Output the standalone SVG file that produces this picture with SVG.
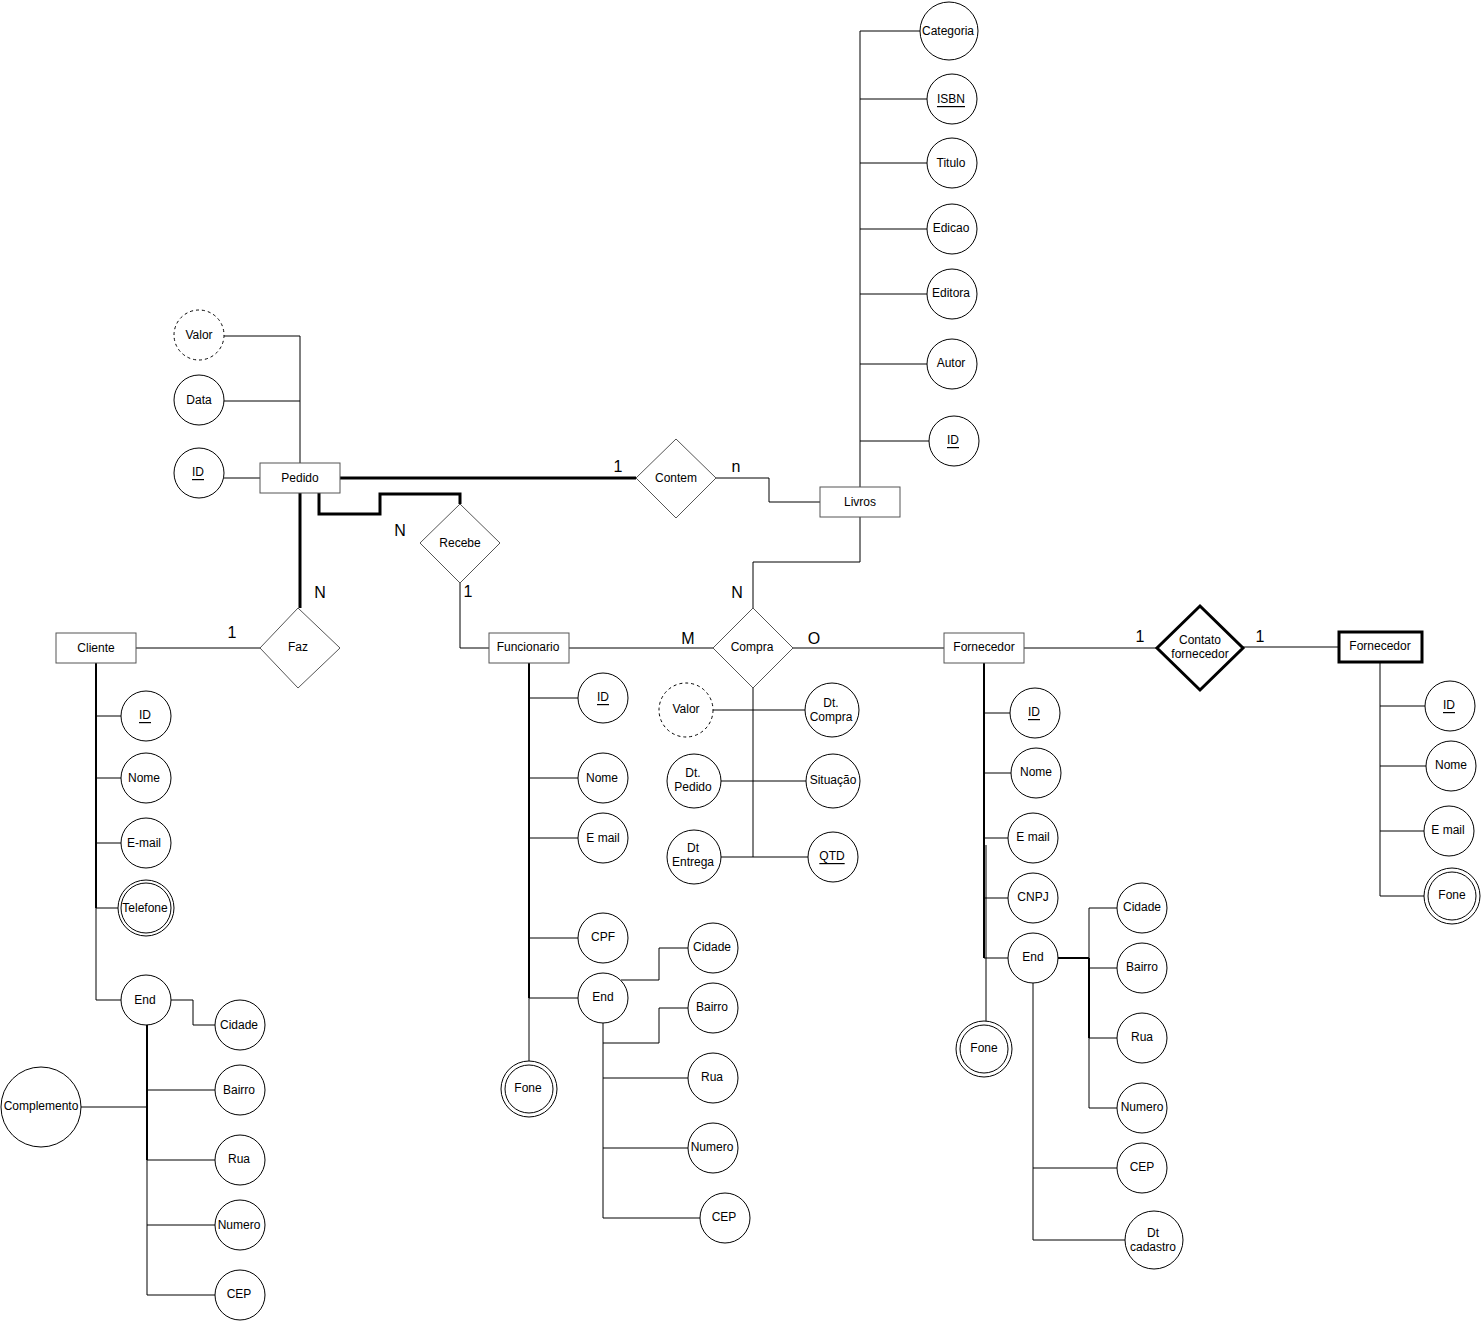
<svg xmlns="http://www.w3.org/2000/svg" width="1481" height="1321" viewBox="0 0 1481 1321">
<style>
text{font-family:"Liberation Sans",Arial,sans-serif;font-size:12px;fill:#000;text-anchor:middle;dominant-baseline:central}
.card{font-size:16px}
.ent{fill:#fff;stroke:#555;stroke-width:1}
.rel{fill:#fff;stroke:#555;stroke-width:1}
.att{fill:#fff;stroke:#000;stroke-width:1}
.der{fill:#fff;stroke:#000;stroke-width:1;stroke-dasharray:3 3}
.c{fill:none;stroke:#000;stroke-width:1}
.t{fill:none;stroke:#000;stroke-width:3}
.m{fill:none;stroke:#000;stroke-width:2}
.bold{fill:#fff;stroke:#000;stroke-width:3}
</style>
<rect width="1481" height="1321" fill="#fff"/>
<g id="connectors">
<!-- Pedido -->
<polyline class="c" points="224,336 300,336 300,463"/>
<line class="c" x1="224" y1="401" x2="300" y2="401"/>
<line class="c" x1="224" y1="478" x2="260" y2="478"/>
<line class="t" x1="340" y1="478" x2="636" y2="478"/>
<line class="t" x1="300" y1="493" x2="300" y2="608"/>
<polyline class="t" points="319,493 319,514 380,514 380,494 460,494 460,504"/>
<polyline class="c" points="460,583 460,648 489,648"/>
<polyline class="c" points="716,478 769,478 769,502 820,502"/>
<line class="c" x1="136" y1="648" x2="260" y2="648"/>
<!-- Livros -->
<line class="c" x1="860" y1="31" x2="860" y2="487"/>
<line class="c" x1="860" y1="31" x2="920" y2="31"/>
<line class="c" x1="860" y1="99" x2="927" y2="99"/>
<line class="c" x1="860" y1="163" x2="927" y2="163"/>
<line class="c" x1="860" y1="229" x2="927" y2="229"/>
<line class="c" x1="860" y1="294" x2="927" y2="294"/>
<line class="c" x1="860" y1="364" x2="927" y2="364"/>
<line class="c" x1="860" y1="441" x2="929" y2="441"/>
<polyline class="c" points="860,517 860,562 753,562 753,608"/>
<!-- Cliente -->
<line class="m" x1="96" y1="663" x2="96" y2="908"/>
<polyline class="c" points="96,908 96,1000 121,1000"/>
<line class="c" x1="96" y1="716" x2="121" y2="716"/>
<line class="c" x1="96" y1="778" x2="121" y2="778"/>
<line class="c" x1="96" y1="843" x2="121" y2="843"/>
<line class="c" x1="96" y1="908" x2="118" y2="908"/>
<polyline class="c" points="171,1000 193,1000 193,1025 215,1025"/>
<line class="m" x1="147" y1="1025" x2="147" y2="1160"/>
<polyline class="c" points="147,1160 147,1295 215,1295"/>
<line class="c" x1="147" y1="1090" x2="215" y2="1090"/>
<line class="c" x1="147" y1="1160" x2="215" y2="1160"/>
<line class="c" x1="147" y1="1225" x2="215" y2="1225"/>
<line class="c" x1="81" y1="1107" x2="147" y2="1107"/>
<!-- Funcionario -->
<line class="c" x1="569" y1="648" x2="713" y2="648"/>
<line class="m" x1="529" y1="663" x2="529" y2="998"/>
<line class="c" x1="529" y1="998" x2="529" y2="1061"/>
<line class="c" x1="529" y1="698" x2="578" y2="698"/>
<line class="c" x1="529" y1="778" x2="578" y2="778"/>
<line class="c" x1="529" y1="838" x2="578" y2="838"/>
<line class="c" x1="529" y1="938" x2="578" y2="938"/>
<line class="c" x1="529" y1="998" x2="578" y2="998"/>
<polyline class="c" points="621,980 659,980 659,948 688,948"/>
<polyline class="c" points="603,1023 603,1218 700,1218"/>
<polyline class="c" points="603,1043 659,1043 659,1008 688,1008"/>
<line class="c" x1="603" y1="1078" x2="688" y2="1078"/>
<line class="c" x1="603" y1="1148" x2="688" y2="1148"/>
<!-- Compra -->
<line class="c" x1="793" y1="648" x2="944" y2="648"/>
<line class="c" x1="753" y1="688" x2="753" y2="857"/>
<line class="c" x1="713" y1="710" x2="806" y2="710"/>
<line class="c" x1="721" y1="781" x2="806" y2="781"/>
<line class="c" x1="721" y1="857" x2="808" y2="857"/>
<!-- Fornecedor -->
<line class="c" x1="1024" y1="648" x2="1157" y2="648"/>
<line class="c" x1="1243" y1="647" x2="1338" y2="647"/>
<line class="m" x1="984" y1="663" x2="984" y2="958"/>
<line class="c" x1="986" y1="845" x2="986" y2="1021"/>
<line class="c" x1="984" y1="713" x2="1010" y2="713"/>
<line class="c" x1="984" y1="773" x2="1011" y2="773"/>
<line class="c" x1="984" y1="838" x2="1008" y2="838"/>
<line class="c" x1="984" y1="898" x2="1008" y2="898"/>
<line class="c" x1="984" y1="958" x2="1008" y2="958"/>
<line class="m" x1="1058" y1="958" x2="1089" y2="958"/>
<line class="m" x1="1089" y1="958" x2="1089" y2="1038"/>
<polyline class="c" points="1117,908 1089,908 1089,1108 1117,1108"/>
<line class="c" x1="1089" y1="968" x2="1117" y2="968"/>
<line class="c" x1="1089" y1="1038" x2="1117" y2="1038"/>
<polyline class="c" points="1033,983 1033,1240 1125,1240"/>
<line class="c" x1="1033" y1="1168" x2="1117" y2="1168"/>
<line class="c" x1="1380" y1="662" x2="1380" y2="896"/>
<line class="c" x1="1380" y1="706" x2="1425" y2="706"/>
<line class="c" x1="1380" y1="766" x2="1426" y2="766"/>
<line class="c" x1="1380" y1="831" x2="1424" y2="831"/>
<line class="c" x1="1380" y1="896" x2="1424" y2="896"/>
</g>
<g id="labels">
<text class="card" x="618" y="466">1</text>
<text class="card" x="736" y="466">n</text>
<text class="card" x="400" y="530">N</text>
<text class="card" x="320" y="592">N</text>
<text class="card" x="468" y="591">1</text>
<text class="card" x="232" y="632">1</text>
<text class="card" x="737" y="592">N</text>
<text class="card" x="688" y="638">M</text>
<text class="card" x="814" y="638">O</text>
<text class="card" x="1140" y="636">1</text>
<text class="card" x="1260" y="636">1</text>
</g>
<g id="pedido"><rect class="ent" x="260" y="463" width="80" height="30"/><text x="300" y="478">Pedido</text></g>
<g id="pedido-valor"><circle class="der" cx="199" cy="335" r="25"/><text x="199" y="335">Valor</text></g>
<g id="pedido-data"><circle class="att" cx="199" cy="400" r="25"/><text x="199" y="400">Data</text></g>
<g id="pedido-id"><circle class="att" cx="199" cy="473" r="25"/><text x="198" y="472" text-decoration="underline">ID</text></g>
<g id="contem"><polygon class="rel" points="676,439 716,478 676,518 636,478"/><text x="676" y="478">Contem</text></g>
<g id="recebe"><polygon class="rel" points="460,504 500,543 460,583 420,543"/><text x="460" y="543">Recebe</text></g>
<g id="faz"><polygon class="rel" points="298,608 340,648 298,688 260,648"/><text x="298" y="647">Faz</text></g>
<g id="livros"><rect class="ent" x="820" y="487" width="80" height="30"/><text x="860" y="502">Livros</text></g>
<g id="livros-categoria"><circle class="att" cx="949" cy="31" r="29"/><text x="948" y="31">Categoria</text></g>
<g id="livros-isbn"><circle class="att" cx="952" cy="99" r="25"/><text x="951" y="99" text-decoration="underline">ISBN</text></g>
<g id="livros-titulo"><circle class="att" cx="952" cy="163" r="25"/><text x="951" y="163">Titulo</text></g>
<g id="livros-edicao"><circle class="att" cx="952" cy="229" r="25"/><text x="951" y="228">Edicao</text></g>
<g id="livros-editora"><circle class="att" cx="952" cy="294" r="25"/><text x="951" y="293">Editora</text></g>
<g id="livros-autor"><circle class="att" cx="952" cy="364" r="25"/><text x="951" y="363">Autor</text></g>
<g id="livros-id"><circle class="att" cx="954" cy="441" r="25"/><text x="953" y="440" text-decoration="underline">ID</text></g>
<g id="cliente"><rect class="ent" x="56" y="633" width="80" height="30"/><text x="96" y="648">Cliente</text></g>
<g id="cliente-id"><circle class="att" cx="146" cy="716" r="25"/><text x="145" y="715" text-decoration="underline">ID</text></g>
<g id="cliente-nome"><circle class="att" cx="146" cy="778" r="25"/><text x="144" y="778">Nome</text></g>
<g id="cliente-email"><circle class="att" cx="146" cy="843" r="25"/><text x="144" y="843">E-mail</text></g>
<g id="cliente-telefone"><circle class="att" cx="146" cy="908" r="28"/><circle class="att" cx="146" cy="908" r="25"/><text x="145" y="908">Telefone</text></g>
<g id="cliente-end"><circle class="att" cx="146" cy="1000" r="25"/><text x="145" y="1000">End</text></g>
<g id="cliente-cidade"><circle class="att" cx="240" cy="1025" r="25"/><text x="239" y="1025">Cidade</text></g>
<g id="cliente-bairro"><circle class="att" cx="240" cy="1090" r="25"/><text x="239" y="1090">Bairro</text></g>
<g id="cliente-rua"><circle class="att" cx="240" cy="1160" r="25"/><text x="239" y="1159">Rua</text></g>
<g id="cliente-numero"><circle class="att" cx="240" cy="1225" r="25"/><text x="239" y="1225">Numero</text></g>
<g id="cliente-cep"><circle class="att" cx="240" cy="1295" r="25"/><text x="239" y="1294">CEP</text></g>
<g id="cliente-complemento"><circle class="att" cx="41" cy="1107" r="40"/><text x="41" y="1106">Complemento</text></g>
<g id="funcionario"><rect class="ent" x="489" y="633" width="80" height="30"/><text x="528" y="647">Funcionario</text></g>
<g id="func-id"><circle class="att" cx="603" cy="698" r="25"/><text x="603" y="697" text-decoration="underline">ID</text></g>
<g id="func-nome"><circle class="att" cx="603" cy="778" r="25"/><text x="602" y="778">Nome</text></g>
<g id="func-email"><circle class="att" cx="603" cy="838" r="25"/><text x="603" y="838">E mail</text></g>
<g id="func-cpf"><circle class="att" cx="603" cy="938" r="25"/><text x="603" y="937">CPF</text></g>
<g id="func-end"><circle class="att" cx="603" cy="998" r="25"/><text x="603" y="997">End</text></g>
<g id="func-cidade"><circle class="att" cx="713" cy="948" r="25"/><text x="712" y="947">Cidade</text></g>
<g id="func-bairro"><circle class="att" cx="713" cy="1008" r="25"/><text x="712" y="1007">Bairro</text></g>
<g id="func-rua"><circle class="att" cx="713" cy="1078" r="25"/><text x="712" y="1077">Rua</text></g>
<g id="func-numero"><circle class="att" cx="713" cy="1148" r="25"/><text x="712" y="1147">Numero</text></g>
<g id="func-cep"><circle class="att" cx="725" cy="1218" r="25"/><text x="724" y="1217">CEP</text></g>
<g id="func-fone"><circle class="att" cx="529" cy="1089" r="28"/><circle class="att" cx="529" cy="1089" r="24"/><text x="528" y="1088">Fone</text></g>
<g id="compra"><polygon class="rel" points="753,608 793,648 753,688 713,648"/><text x="752" y="647">Compra</text></g>
<g id="compra-valor"><circle class="der" cx="686" cy="710" r="27"/><text x="686" y="709">Valor</text></g>
<g id="compra-dtcompra"><circle class="att" cx="832" cy="710" r="27"/><text x="831" y="703">Dt.</text><text x="831" y="717">Compra</text></g>
<g id="compra-dtpedido"><circle class="att" cx="694" cy="781" r="27"/><text x="693" y="773">Dt.</text><text x="693" y="787">Pedido</text></g>
<g id="compra-situacao"><circle class="att" cx="833" cy="781" r="27"/><text x="833" y="780">Situação</text></g>
<g id="compra-dtentrega"><circle class="att" cx="694" cy="857" r="27"/><text x="693" y="848">Dt</text><text x="693" y="862">Entrega</text></g>
<g id="compra-qtd"><circle class="att" cx="833" cy="857" r="25"/><text x="832" y="856" text-decoration="underline">QTD</text></g>
<g id="fornecedor"><rect class="ent" x="944" y="633" width="80" height="30"/><text x="984" y="647">Fornecedor</text></g>
<g id="forn-id"><circle class="att" cx="1035" cy="713" r="25"/><text x="1034" y="712" text-decoration="underline">ID</text></g>
<g id="forn-nome"><circle class="att" cx="1036" cy="773" r="25"/><text x="1036" y="772">Nome</text></g>
<g id="forn-email"><circle class="att" cx="1033" cy="838" r="25"/><text x="1033" y="837">E mail</text></g>
<g id="forn-cnpj"><circle class="att" cx="1033" cy="898" r="25"/><text x="1033" y="897">CNPJ</text></g>
<g id="forn-end"><circle class="att" cx="1033" cy="958" r="25"/><text x="1033" y="957">End</text></g>
<g id="forn-cidade"><circle class="att" cx="1142" cy="908" r="25"/><text x="1142" y="907">Cidade</text></g>
<g id="forn-bairro"><circle class="att" cx="1142" cy="968" r="25"/><text x="1142" y="967">Bairro</text></g>
<g id="forn-rua"><circle class="att" cx="1142" cy="1038" r="25"/><text x="1142" y="1037">Rua</text></g>
<g id="forn-numero"><circle class="att" cx="1142" cy="1108" r="25"/><text x="1142" y="1107">Numero</text></g>
<g id="forn-cep"><circle class="att" cx="1142" cy="1168" r="25"/><text x="1142" y="1167">CEP</text></g>
<g id="forn-dtcadastro"><circle class="att" cx="1154" cy="1240" r="29"/><text x="1153" y="1233">Dt</text><text x="1153" y="1247">cadastro</text></g>
<g id="forn-fone"><circle class="att" cx="984" cy="1049" r="28"/><circle class="att" cx="984" cy="1049" r="24"/><text x="984" y="1048">Fone</text></g>
<g id="contato-fornecedor"><polygon class="bold" points="1200,606 1243,648 1200,690 1157,648"/><text x="1200" y="640">Contato</text><text x="1200" y="654">fornecedor</text></g>
<g id="fornecedor2"><rect class="bold" x="1339" y="632" width="83" height="30"/><text x="1380" y="646">Fornecedor</text></g>
<g id="forn2-id"><circle class="att" cx="1450" cy="706" r="25"/><text x="1449" y="705" text-decoration="underline">ID</text></g>
<g id="forn2-nome"><circle class="att" cx="1451" cy="766" r="25"/><text x="1451" y="765">Nome</text></g>
<g id="forn2-email"><circle class="att" cx="1449" cy="831" r="25"/><text x="1448" y="830">E mail</text></g>
<g id="forn2-fone"><circle class="att" cx="1452" cy="896" r="28"/><circle class="att" cx="1452" cy="896" r="24"/><text x="1452" y="895">Fone</text></g>
</svg>
